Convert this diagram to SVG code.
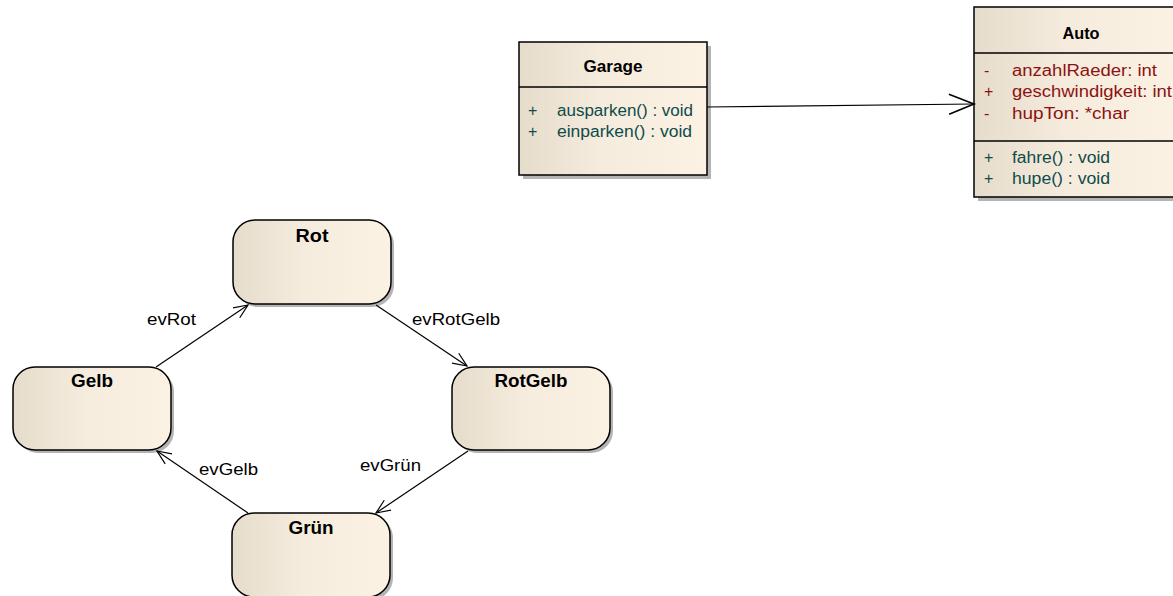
<svg xmlns="http://www.w3.org/2000/svg" width="1173" height="596" viewBox="0 0 1173 596">
<defs>
<linearGradient id="fill" x1="0" y1="0" x2="1" y2="0">
<stop offset="0" stop-color="#e6dccc"/>
<stop offset="0.45" stop-color="#f6ecdd"/>
<stop offset="1" stop-color="#fcf2e4"/>
</linearGradient>
<marker id="openS" markerUnits="userSpaceOnUse" viewBox="-16 -8 18 16" refX="0" refY="0" markerWidth="18" markerHeight="16" orient="auto" overflow="visible">
<path d="M -14 -6 L 0 0 L -14 6" fill="none" stroke="#000" stroke-width="1.2"/>
</marker>
<marker id="openL" markerUnits="userSpaceOnUse" viewBox="-27 -12 29 24" refX="0" refY="0" markerWidth="29" markerHeight="24" orient="auto" overflow="visible">
<path d="M -25 -10 L 0 0 L -25 10" fill="none" stroke="#000" stroke-width="1.6"/>
</marker>
</defs>
<style>
.box{fill:url(#fill);stroke:#000;stroke-width:1.5}
.shadow{fill:#b4b4b4}
.div{stroke:#000;stroke-width:1.5}
.title{font-family:"Liberation Sans",Arial,sans-serif;font-weight:bold;font-size:16px;fill:#000}
.state{font-family:"Liberation Sans",Arial,sans-serif;font-weight:bold;font-size:18px;fill:#000}
.attr{font-family:"Liberation Sans",Arial,sans-serif;font-size:16px;fill:#8c1212}
.meth{font-family:"Liberation Sans",Arial,sans-serif;font-size:16px;fill:#0e4b4b}
.lbl{font-family:"Liberation Sans",Arial,sans-serif;font-size:16px;fill:#000}
.conn{fill:none;stroke:#000;stroke-width:1.2}
</style>
<rect width="1173" height="596" fill="#fff"/>

<g id="Garage">
<rect class="shadow" x="523" y="46" width="188" height="133"/>
<rect class="box" x="519" y="42" width="188" height="133"/>
<line class="div" x1="519" y1="87" x2="707" y2="87"/>
<text class="title" x="613" y="72" text-anchor="middle" textLength="59" lengthAdjust="spacingAndGlyphs">Garage</text>
<text class="meth" x="528" y="116">+</text>
<text class="meth" x="557" y="116" textLength="136" lengthAdjust="spacingAndGlyphs">ausparken() : void</text>
<text class="meth" x="528" y="137">+</text>
<text class="meth" x="557" y="137" textLength="135" lengthAdjust="spacingAndGlyphs">einparken() : void</text>
</g>

<g id="Auto">
<rect class="shadow" x="978" y="11" width="210" height="190"/>
<rect class="box" x="974" y="7" width="210" height="190"/>
<line class="div" x1="974" y1="53" x2="1184" y2="53"/>
<line class="div" x1="974" y1="141" x2="1184" y2="141"/>
<text class="title" x="1081" y="39" text-anchor="middle" textLength="37" lengthAdjust="spacingAndGlyphs">Auto</text>
<text class="attr" x="984" y="76">-</text>
<text class="attr" x="1012" y="76" textLength="145" lengthAdjust="spacingAndGlyphs">anzahlRaeder:  int</text>
<text class="attr" x="984" y="97">+</text>
<text class="attr" x="1012" y="97" textLength="160" lengthAdjust="spacingAndGlyphs">geschwindigkeit:  int</text>
<text class="attr" x="984" y="119">-</text>
<text class="attr" x="1012" y="119" textLength="117" lengthAdjust="spacingAndGlyphs">hupTon:  *char</text>
<text class="meth" x="984" y="163">+</text>
<text class="meth" x="1012" y="163" textLength="98" lengthAdjust="spacingAndGlyphs">fahre() : void</text>
<text class="meth" x="984" y="184">+</text>
<text class="meth" x="1012" y="184" textLength="98" lengthAdjust="spacingAndGlyphs">hupe() : void</text>
</g>

<g id="Rot">
<rect class="shadow" x="236" y="223" width="158" height="84" rx="22" ry="22"/>
<rect class="box" x="233" y="220" width="158" height="84" rx="22" ry="22"/>
<text class="state" x="312" y="242" text-anchor="middle" textLength="33" lengthAdjust="spacingAndGlyphs">Rot</text>
</g>

<g id="Gelb">
<rect class="shadow" x="16" y="370" width="158" height="83" rx="22" ry="22"/>
<rect class="box" x="13" y="367" width="158" height="83" rx="22" ry="22"/>
<text class="state" x="92" y="387" text-anchor="middle" textLength="42" lengthAdjust="spacingAndGlyphs">Gelb</text>
</g>

<g id="RotGelb">
<rect class="shadow" x="455" y="370" width="158" height="83" rx="22" ry="22"/>
<rect class="box" x="452" y="367" width="158" height="83" rx="22" ry="22"/>
<text class="state" x="531" y="387" text-anchor="middle" textLength="73" lengthAdjust="spacingAndGlyphs">RotGelb</text>
</g>

<g id="Gruen">
<rect class="shadow" x="235" y="516" width="158" height="84" rx="22" ry="22"/>
<rect class="box" x="232" y="513" width="158" height="84" rx="22" ry="22"/>
<text class="state" x="311" y="534" text-anchor="middle" textLength="45" lengthAdjust="spacingAndGlyphs">Grün</text>
</g>

<g id="connectors">
<line class="conn" x1="707" y1="107" x2="974" y2="104" marker-end="url(#openL)" stroke-width="1.5"/>
<line class="conn" x1="156" y1="367" x2="248" y2="305" marker-end="url(#openS)"/>
<line class="conn" x1="376" y1="305" x2="467" y2="366" marker-end="url(#openS)"/>
<line class="conn" x1="468" y1="451" x2="376" y2="513" marker-end="url(#openS)"/>
<line class="conn" x1="248" y1="513" x2="157" y2="451" marker-end="url(#openS)"/>
<text class="lbl" x="147" y="325" textLength="49" lengthAdjust="spacingAndGlyphs">evRot</text>
<text class="lbl" x="412" y="325" textLength="88" lengthAdjust="spacingAndGlyphs">evRotGelb</text>
<text class="lbl" x="360" y="471" textLength="61" lengthAdjust="spacingAndGlyphs">evGrün</text>
<text class="lbl" x="199" y="475" textLength="59" lengthAdjust="spacingAndGlyphs">evGelb</text>
</g>
</svg>
